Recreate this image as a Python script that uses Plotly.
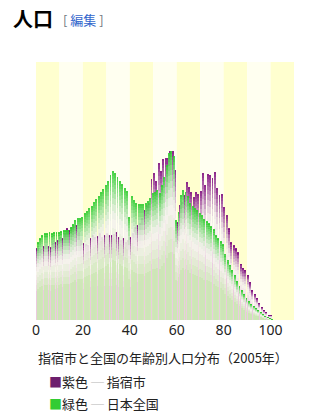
import plotly.graph_objects as go

# ---------------- data (relative population by single year of age, 2005) -------------
ages = list(range(0, 101))

ibusuki = [72, 72, 71, 74, 75, 74, 73, 77, 78, 80,
           83, 82, 86, 92, 90, 93, 94, 95, 88, 80,
           77, 76, 75, 82, 85, 83, 84, 87, 83, 85,
           87, 85, 85, 86, 88, 83, 80, 82, 78, 80,
           83, 87, 93, 95, 97, 102, 110, 115, 117, 141,
           147, 139, 157, 149, 161, 162, 162, 169, 169, 150,
           98, 115, 118, 125, 138, 133, 128, 123, 128, 126,
           129, 147, 135, 146, 145, 142, 148, 132, 125, 126,
           113, 105, 92, 78, 75, 72, 68, 56, 52, 50,
           45, 38, 30, 26, 22, 17, 13, 10, 8, 5, 5]

japan = [78, 82, 85, 87, 87, 88, 87, 88, 88, 88,
         89, 90, 90, 90, 93, 96, 100, 102, 102, 103,
         107, 109, 112, 114, 118, 121, 124, 128, 131, 135,
         139, 145, 149, 147, 143, 139, 136, 132, 129, 103,
         124, 120, 117, 116, 116, 116, 117, 119, 122, 127,
         128, 130, 127, 135, 143, 155, 167, 169, 164, 100,
         108, 125, 130, 128, 124, 117, 114, 112, 110, 107,
         105, 101, 99, 97, 94, 91, 85, 82, 79, 76,
         66, 60, 55, 50, 45, 39, 34, 30, 26, 22,
         19, 16, 14, 12, 10, 8, 6, 4, 3, 2, 1]

x_tick_vals = [0, 20, 40, 60, 80, 100]
x_tick_text = ["0", "20", "40", "60", "80", "100"]
decade_starts = list(range(0, 110, 10))

# ---------------- style ----------------
W, H = 331, 418
L, R, T, B = 36, 37, 62, 98
PW, PH = W - L - R, H - T - B

purple_top = (125, 10, 125)
purple_pale = (232, 198, 224)
green_top = (45, 205, 45)
green_pale = (204, 232, 180)
white = (246, 242, 238)

edges = [0, 0.15, 0.30, 0.40, 0.48, 0.55, 0.62, 0.68, 0.73, 0.78, 0.82,
         0.86, 0.89, 0.92, 0.945, 0.965, 0.985, 1.0]


def mix(c1, c2, s):
    return "rgb(%d,%d,%d)" % tuple(round(a + (b - a) * s) for a, b in zip(c1, c2))


def seg_color(pale, top, t):
    if t >= 0.66:
        s = ((t - 0.66) / 0.34) ** 1.5
        return mix(white, top, s)
    if t >= 0.35:
        return mix(pale, white, (t - 0.35) / 0.31)
    return mix(pale, pale, 0)


fig = go.Figure()


def add_series(vals, pale, top, offset):
    for e0, e1 in zip(edges[:-1], edges[1:]):
        t = (e0 + e1) / 2
        fig.add_trace(go.Bar(
            x=ages,
            y=[v * (e1 - e0) for v in vals],
            base=[v * e0 for v in vals],
            width=0.4,
            offset=offset,
            opacity=0.9,
            marker=dict(color=seg_color(pale, top, t), line=dict(width=0)),
            hoverinfo="skip",
            showlegend=False,
        ))


add_series(ibusuki, purple_pale, purple_top, 0.05)
add_series(japan, green_pale, green_top, 0.55)

shapes = []
for i, d in enumerate(decade_starts):
    shapes.append(dict(
        type="rect", xref="x", yref="paper", x0=d, x1=d + 10, y0=0, y1=1,
        fillcolor="#ffffcf" if i % 2 == 0 else "#fffff0",
        line=dict(width=0), layer="below",
    ))


def px_x(px):
    return (px - L) / PW


def px_y(py):
    return (H - B - py) / PH


cjk = "Noto Sans CJK JP"
annotations = [
    dict(text="<b>人口</b>", x=px_x(11), y=px_y(19), xref="paper", yref="paper",
         xanchor="left", yanchor="middle", showarrow=False,
         font=dict(family=cjk, size=20, color="#000")),
    dict(text="<span style='color:#72777d'>[</span> <span style='color:#3366cc'>編集</span> <span style='color:#72777d'>]</span>",
         x=px_x(61), y=px_y(20), xref="paper", yref="paper",
         xanchor="left", yanchor="middle", showarrow=False,
         font=dict(family=cjk, size=13, color="#3366cc")),
    dict(text="指宿市と全国の年齢別人口分布（2005年）",
         x=px_x(36), y=px_y(357), xref="paper", yref="paper",
         xanchor="left", yanchor="middle", showarrow=False,
         font=dict(family=cjk, size=13, color="#222")),
    dict(text="<span style='color:#6d1f6d'>■</span>紫色 <span style='color:#b8b8b8'>─</span> 指宿市",
         x=px_x(47), y=px_y(381), xref="paper", yref="paper",
         xanchor="left", yanchor="middle", showarrow=False,
         font=dict(family=cjk, size=13, color="#222")),
    dict(text="<span style='color:#33cc33'>■</span>緑色 <span style='color:#b8b8b8'>─</span> 日本全国",
         x=px_x(47), y=px_y(403), xref="paper", yref="paper",
         xanchor="left", yanchor="middle", showarrow=False,
         font=dict(family=cjk, size=13, color="#222")),
]

fig.update_layout(
    width=W, height=H,
    margin=dict(l=L, r=R, t=T, b=B, pad=0),
    paper_bgcolor="white", plot_bgcolor="white",
    barmode="overlay", bargap=0,
    shapes=shapes, annotations=annotations,
    xaxis=dict(range=[0, 110], tickvals=x_tick_vals, ticktext=x_tick_text,
               showgrid=False, zeroline=False, showline=False, ticks="",
               tickfont=dict(family="Noto Sans", size=14, color="#222"), fixedrange=True),
    yaxis=dict(range=[0, 258], visible=False, fixedrange=True),
    showlegend=False,
)

fig.write_html("out.html", config={"displayModeBar": False})
